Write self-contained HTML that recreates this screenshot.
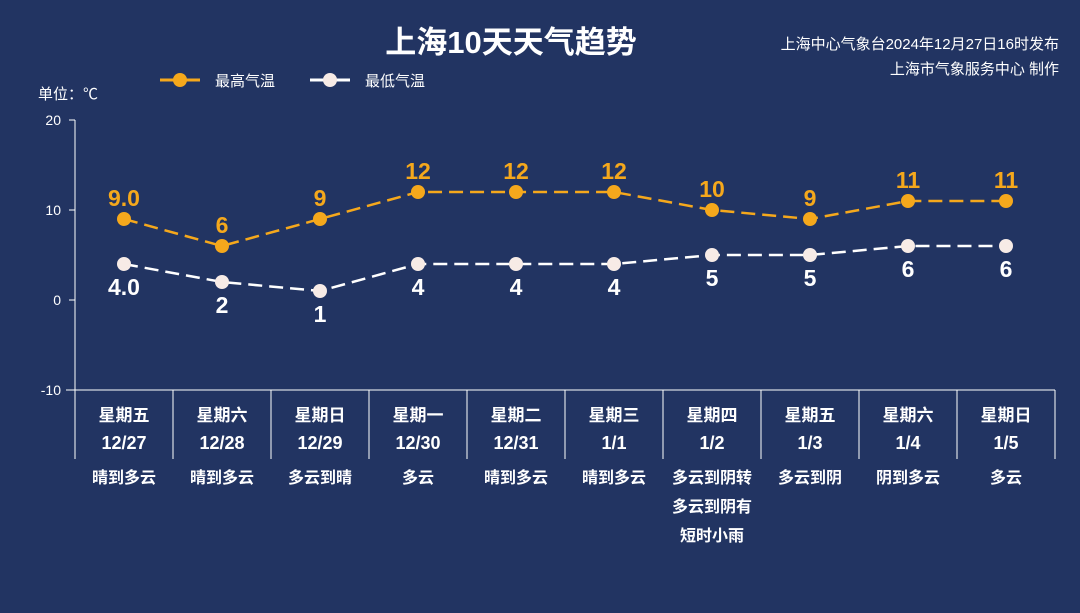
<!DOCTYPE html>
<html><head><meta charset="utf-8"><style>
html,body{margin:0;padding:0;background:#223462;}
svg{display:block;font-family:"Liberation Sans","Noto Sans CJK SC",sans-serif;}
</style></head><body>
<svg id="chart" width="1080" height="613" viewBox="0 0 1080 613">
<rect width="1080" height="613" fill="#223462"/>
<text x="511" y="53" text-anchor="middle" font-size="31" font-weight="bold" fill="#fff">上海10天天气趋势</text>
<text x="1059" y="49" text-anchor="end" font-size="15" fill="#fff">上海中心气象台2024年12月27日16时发布</text>
<text x="1059" y="74" text-anchor="end" font-size="15" fill="#fff">上海市气象服务中心 制作</text>
<g>
<line x1="160" y1="80" x2="200" y2="80" stroke="#f5a81c" stroke-width="3"/>
<circle cx="180" cy="80" r="7" fill="#f5a81c"/>
<text x="215" y="86" font-size="15" fill="#fff">最高气温</text></g>
<g>
<line x1="310" y1="80" x2="350" y2="80" stroke="#fff" stroke-width="3"/>
<circle cx="330" cy="80" r="7" fill="#f7ebe6"/>
<text x="365" y="86" font-size="15" fill="#fff">最低气温</text></g>
<text x="38" y="99" font-size="15" fill="#fff">单位：℃</text>
<g id="g"></g>
</svg>
<script>
const days=["星期五","星期六","星期日","星期一","星期二","星期三","星期四","星期五","星期六","星期日"];
const dates=["12/27","12/28","12/29","12/30","12/31","1/1","1/2","1/3","1/4","1/5"];
const weather=[["晴到多云"],["晴到多云"],["多云到晴"],["多云"],["晴到多云"],["晴到多云"],["多云到阴转","多云到阴有","短时小雨"],["多云到阴"],["阴到多云"],["多云"]];
const highs=[9,6,9,12,12,12,10,9,11,11];
const lows=[4,2,1,4,4,4,5,5,6,6];
const highLabels=["9.0","6","9","12","12","12","10","9","11","11"];
const lowLabels=["4.0","2","1","4","4","4","5","5","6","6"];
const yTicks=[20,10,0,-10];
const NS="http://www.w3.org/2000/svg",g=document.getElementById('g');
const x0=75,x1=1055,yTop=120,yBot=390,vMin=-10,vMax=20;
const bw=(x1-x0)/days.length;
const X=i=>x0+bw*(i+0.5);
const Y=v=>yBot-(v-vMin)/(vMax-vMin)*(yBot-yTop);
function el(t,a,txt){const e=document.createElementNS(NS,t);for(const k in a)e.setAttribute(k,a[k]);if(txt!=null)e.textContent=txt;g.appendChild(e);return e;}
let e=el('line',{x1:x0,y1:yTop,x2:x0,y2:yBot,stroke:'#fff','stroke-width':1});


yTicks.forEach(v=>{
 let t=el('line',{x1:x0-6,y1:Y(v),x2:x0,y2:Y(v),stroke:'#fff'});
 
 
 let l=el('text',{x:x0-14,y:Y(v)+5,'text-anchor':'end','font-size':14,fill:'#fff'},v);
 
 
});
e=el('line',{x1:66,y1:yBot,x2:x1,y2:yBot,stroke:'#fff'});


for(let i=0;i<=days.length;i++){
 let t=el('line',{x1:x0+bw*i,y1:yBot,x2:x0+bw*i,y2:459,stroke:'#fff'});
 
 
}
days.forEach((d,i)=>{
 let a=el('text',{x:X(i),y:421,'text-anchor':'middle','font-size':17,'font-weight':'bold',fill:'#fff'},d);
 
 
 let b=el('text',{x:X(i),y:449,'text-anchor':'middle','font-size':18,'font-weight':'bold',fill:'#fff'},dates[i]);
 
 
 weather[i].forEach((w,j)=>{
  let c=el('text',{x:X(i),y:483+j*29,'text-anchor':'middle','font-size':16,'font-weight':'bold',fill:'#fff'},w);
  
  
 });
});
function series(vals,labels,color,fill,name,above){
 let p=el('polyline',{points:vals.map((v,i)=>X(i)+','+Y(v)).join(' '),fill:'none',stroke:color,'stroke-width':2.5,'stroke-dasharray':'14,7'});
 
 
 vals.forEach((v,i)=>{
  let c=el('circle',{cx:X(i),cy:Y(v),r:7,fill:fill});
  
  
  let t=el('text',{x:X(i),y:above?Y(v)-13:Y(v)+31,'text-anchor':'middle','font-size':23,'font-weight':'bold',fill:above?color:'#fff'},labels[i]);
  
  
 });
}
series(highs,highLabels,'#f5a81c','#f5a81c','high-temp',true);
series(lows,lowLabels,'#ffffff','#f7ebe6','low-temp',false);
</script>
</body></html>
